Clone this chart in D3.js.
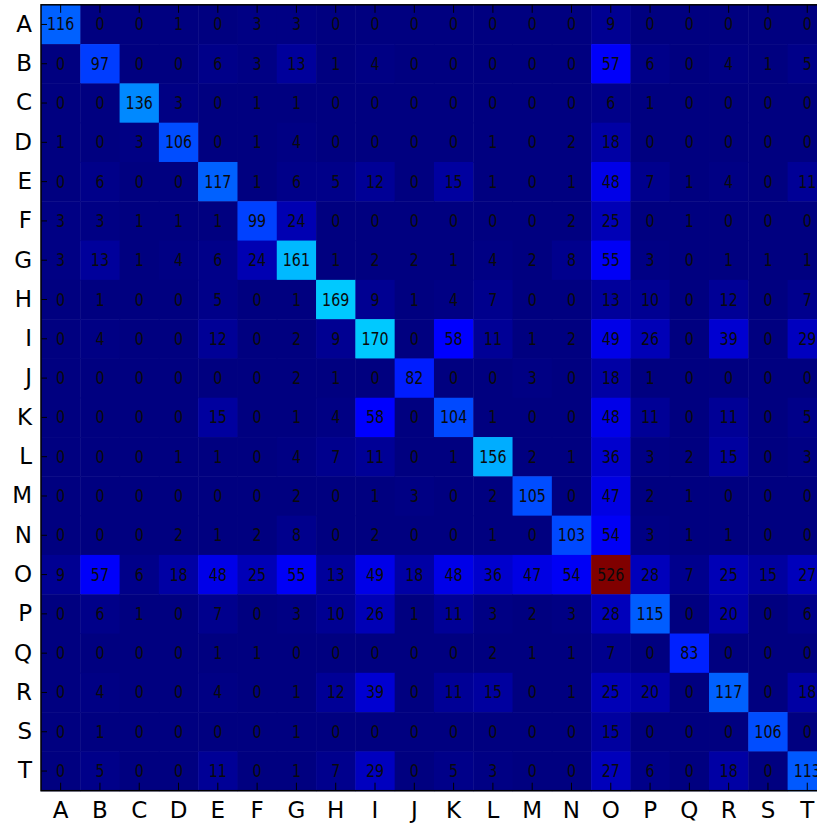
<!DOCTYPE html>
<html>
<head>
<meta charset="utf-8">
<script src="https://cdn.jsdelivr.net/npm/d3@7"></script>
<style>
  html, body { margin: 0; padding: 0; background: #fff; overflow: hidden; }
  svg { display: block; }
</style>
</head>
<body>
<script>
const labels = ["A","B","C","D","E","F","G","H","I","J","K","L","M","N","O","P","Q","R","S","T"];

const rowA = [116,0,0,1,0,3,3,0,0,0,0,0,0,0,9,0,0,0,0,0];
const rowB = [0,97,0,0,6,3,13,1,4,0,0,0,0,0,57,6,0,4,1,5];
const rowC = [0,0,136,3,0,1,1,0,0,0,0,0,0,0,6,1,0,0,0,0];
const rowD = [1,0,3,106,0,1,4,0,0,0,0,1,0,2,18,0,0,0,0,0];
const rowE = [0,6,0,0,117,1,6,5,12,0,15,1,0,1,48,7,1,4,0,11];
const rowF = [3,3,1,1,1,99,24,0,0,0,0,0,0,2,25,0,1,0,0,0];
const rowG = [3,13,1,4,6,24,161,1,2,2,1,4,2,8,55,3,0,1,1,1];
const rowH = [0,1,0,0,5,0,1,169,9,1,4,7,0,0,13,10,0,12,0,7];
const rowI = [0,4,0,0,12,0,2,9,170,0,58,11,1,2,49,26,0,39,0,29];
const rowJ = [0,0,0,0,0,0,2,1,0,82,0,0,3,0,18,1,0,0,0,0];
const rowK = [0,0,0,0,15,0,1,4,58,0,104,1,0,0,48,11,0,11,0,5];
const rowL = [0,0,0,1,1,0,4,7,11,0,1,156,2,1,36,3,2,15,0,3];
const rowM = [0,0,0,0,0,0,2,0,1,3,0,2,105,0,47,2,1,0,0,0];
const rowN = [0,0,0,2,1,2,8,0,2,0,0,1,0,103,54,3,1,1,0,0];
const rowO = [9,57,6,18,48,25,55,13,49,18,48,36,47,54,526,28,7,25,15,27];
const rowP = [0,6,1,0,7,0,3,10,26,1,11,3,2,3,28,115,0,20,0,6];
const rowQ = [0,0,0,0,1,1,0,0,0,0,0,2,1,1,7,0,83,0,0,0];
const rowR = [0,4,0,0,4,0,1,12,39,0,11,15,0,1,25,20,0,117,0,18];
const rowS = [0,1,0,0,0,0,1,0,0,0,0,0,0,0,15,0,0,0,106,0];
const rowT = [0,5,0,0,11,0,1,7,29,0,5,3,0,0,27,6,0,18,0,113];

const matrix = [rowA,rowB,rowC,rowD,rowE,rowF,rowG,rowH,rowI,rowJ,rowK,rowL,rowM,rowN,rowO,rowP,rowQ,rowR,rowS,rowT];

const W = 817, H = 823;
const plotLeft = 41, plotTop = 4.8, plotSize = 785.9;

const svg = d3.select("body").append("svg").attr("width", W).attr("height", H);

const x = d3.scaleBand().domain(labels).range([plotLeft, plotLeft + plotSize]);
const y = d3.scaleBand().domain(labels).range([plotTop, plotTop + plotSize]);

const vmax = d3.max(matrix.flat());
// matplotlib "jet" colormap
const rS = d3.scaleLinear().domain([0,0.35,0.66,0.89,1]).range([0,0,1,1,0.5]).clamp(true);
const gS = d3.scaleLinear().domain([0,0.125,0.375,0.64,0.91,1]).range([0,0,1,1,0,0]).clamp(true);
const bS = d3.scaleLinear().domain([0,0.11,0.34,0.65,1]).range([0.5,1,1,0,0]).clamp(true);
const norm = d3.scaleLinear().domain([0, vmax]).range([0, 1]);
function jet(v) {
  const t = Math.floor(norm(v) * 255.999) / 255;
  return d3.rgb(Math.round(rS(t)*255), Math.round(gS(t)*255), Math.round(bS(t)*255)).toString();
}

const cells = [];
matrix.forEach((row, i) => row.forEach((v, j) => cells.push({r: labels[i], c: labels[j], v})));

const g = svg.append("g");
g.selectAll("rect.cell").data(cells).join("rect")
  .attr("class", "cell")
  .attr("x", d => x(d.c))
  .attr("y", d => y(d.r))
  .attr("width", x.bandwidth() + 0.5)
  .attr("height", y.bandwidth() + 0.5)
  .attr("fill", d => jet(d.v));

g.selectAll("text.val").data(cells).join("text")
  .attr("class", "val")
  .attr("transform", d => `translate(${x(d.c) + x.bandwidth() / 2},${y(d.r) + y.bandwidth() / 2}) scale(0.82,1)`)
  .attr("text-anchor", "middle")
  .attr("dominant-baseline", "central")
  .attr("font-family", "'DejaVu Sans', sans-serif")
  .attr("font-size", "17.4px")
  .attr("fill", "#0a0a0a")
  .text(d => d.v);

// ticks (inward, on all sides like matplotlib classic)
const tickG = svg.append("g").attr("stroke", "#000").attr("stroke-width", 1);
labels.forEach(l => {
  const cx = x(l) + x.bandwidth() / 2;
  const cy = y(l) + y.bandwidth() / 2;
  tickG.append("line").attr("x1", cx).attr("x2", cx).attr("y1", plotTop).attr("y2", plotTop + 8);
  tickG.append("line").attr("x1", cx).attr("x2", cx).attr("y1", plotTop + plotSize).attr("y2", plotTop + plotSize - 8);
  tickG.append("line").attr("x1", plotLeft).attr("x2", plotLeft + 6).attr("y1", cy).attr("y2", cy);
  tickG.append("line").attr("x1", plotLeft + plotSize).attr("x2", plotLeft + plotSize - 6).attr("y1", cy).attr("y2", cy);
});

// frame
svg.append("rect")
  .attr("x", plotLeft).attr("y", plotTop)
  .attr("width", plotSize).attr("height", plotSize)
  .attr("fill", "none").attr("stroke", "#000").attr("stroke-width", 1.5);

// axis labels via d3 axes (tick lines drawn above)
const xAxis = d3.axisBottom(x).tickSize(0).tickPadding(11);
const yAxis = d3.axisLeft(y).tickSize(0).tickPadding(9);

const xa = svg.append("g").attr("transform", `translate(0,${plotTop + plotSize})`).call(xAxis);
const ya = svg.append("g").attr("transform", `translate(${plotLeft},0)`).call(yAxis);
[xa, ya].forEach(a => {
  a.select(".domain").remove();
  a.selectAll("text")
    .attr("font-family", "'DejaVu Sans', sans-serif")
    .attr("font-size", "23px")
    .attr("fill", "#000");
});
</script>
</body>
</html>
